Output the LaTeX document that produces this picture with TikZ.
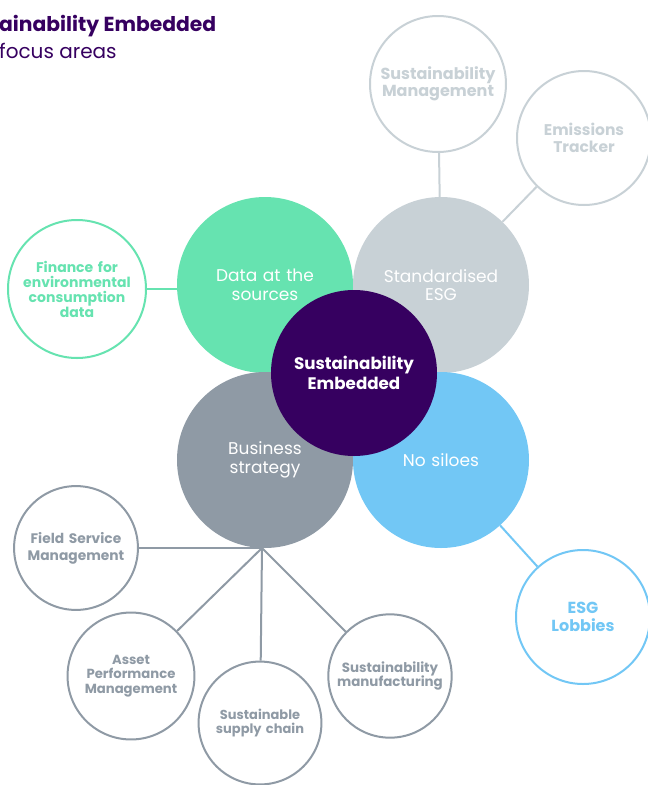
\documentclass[tikz,border=0pt]{standalone}
\usepackage{fontspec}
\setmainfont{Poppins}
\usepackage{tikz}
\usetikzlibrary{positioning}
\definecolor{embpurple}{HTML}{360060}
\definecolor{datagreen}{HTML}{66E3B0}
\definecolor{esggrey}{HTML}{C8D1D6}
\definecolor{bizgrey}{HTML}{8F9AA5}
\definecolor{siloblue}{HTML}{72C7F5}
\tikzset{
    bigdisc/.style={
        circle,
        inner sep=0pt,
        minimum size=176pt,
        text width=150pt,
        align=center,
        text=white,
        font={\fontsize{17pt}{18.5pt}\selectfont}
    },
    ring/.style={
        circle,
        draw=#1,
        line width=2pt,
        fill=white,
        inner sep=0pt,
        minimum size=126pt,
        text width=120pt,
        align=center,
        text=#1,
        font={\bfseries\fontsize{13pt}{15pt}\selectfont}
    },
    link/.style={draw=#1, line width=2pt},
}

\begin{document}
\begin{tikzpicture}[x=1pt,y=-1pt]
        \useasboundingbox (0,0) rectangle (648,785);

        % Heading (cut at the left edge)
        \node[anchor=base west, inner sep=0pt, text=embpurple,
              font={\bfseries\fontsize{20.3pt}{24pt}\selectfont}] (title) at (-1,31) {ainability Embedded};
        \node[anchor=base west, inner sep=0pt, text=embpurple,
              font={\fontsize{20pt}{24pt}\selectfont}] (subtitle) at (-1,58) {focus areas};

        % Four focus areas round the core
        \node[bigdisc, fill=datagreen] (data) at (265,285) {Data at the\\sources};
        \node[bigdisc, fill=esggrey]   (std)  at (441,285) {Standardised\\ESG};
        \node[bigdisc, fill=bizgrey]   (biz)  at (265,460) {Business\\strategy};
        \node[bigdisc, fill=siloblue]  (silo) at (441,460) {No siloes};

        \node[circle, fill=embpurple, minimum size=166pt, inner sep=0pt, text width=140pt,
              align=center, text=white,
              font={\bfseries\fontsize{16.7pt}{20pt}\selectfont}] (core) at (354,373)
              {Sustainability\\Embedded};

        % Outer rings
        \node[ring=esggrey, minimum size=136pt, font={\bfseries\fontsize{16pt}{17.5pt}\selectfont}]
              (smgmt) at (438,84) {Sustainability\\Management};
        \node[ring=esggrey, minimum size=134pt, font={\bfseries\fontsize{15.5pt}{17.5pt}\selectfont}]
              (emis) at (584,138) {Emissions\\Tracker};
        \node[ring=datagreen, minimum size=138pt, font={\bfseries\fontsize{14pt}{15pt}\selectfont}]
              (fin) at (77,289) {Finance for\\environmental\\consumption\\data};
        \node[ring=siloblue, minimum size=134pt, font={\bfseries\fontsize{16pt}{18pt}\selectfont}]
              (lobby) at (583,617) {ESG\\Lobbies};

        \coordinate (hub) at (262,548);
        \node[ring=bizgrey, minimum size=122pt, font={\bfseries\fontsize{13.8pt}{17pt}\selectfont}]
              (fsm) at (76,548) {Field Service\\Management};
        \node[ring=bizgrey, minimum size=122pt, font={\bfseries\fontsize{13.2pt}{14.5pt}\selectfont}]
              (apm) at (131,676) {Asset\\Performance\\Management};
        \node[ring=bizgrey, minimum size=122pt, font={\bfseries\fontsize{13pt}{14.5pt}\selectfont}]
              (ssc) at (260,723) {Sustainable\\supply chain};
        \node[ring=bizgrey, minimum size=122pt, font={\bfseries\fontsize{13.4pt}{14.5pt}\selectfont}]
              (sman) at (390,676) {Sustainability\\manufacturing};

        \draw[link=esggrey]   (smgmt) -- (std);
        \draw[link=esggrey]   (emis) -- (std);
        \draw[link=datagreen] (fin) -- (fin -| data.west);
        \draw[link=siloblue]  (silo) -- (lobby);
        \draw[link=bizgrey]
              (hub) edge (fsm)
              (hub) edge (apm)
              (hub) edge (ssc)
              (hub) edge (sman);

\end{tikzpicture}
\end{document}
